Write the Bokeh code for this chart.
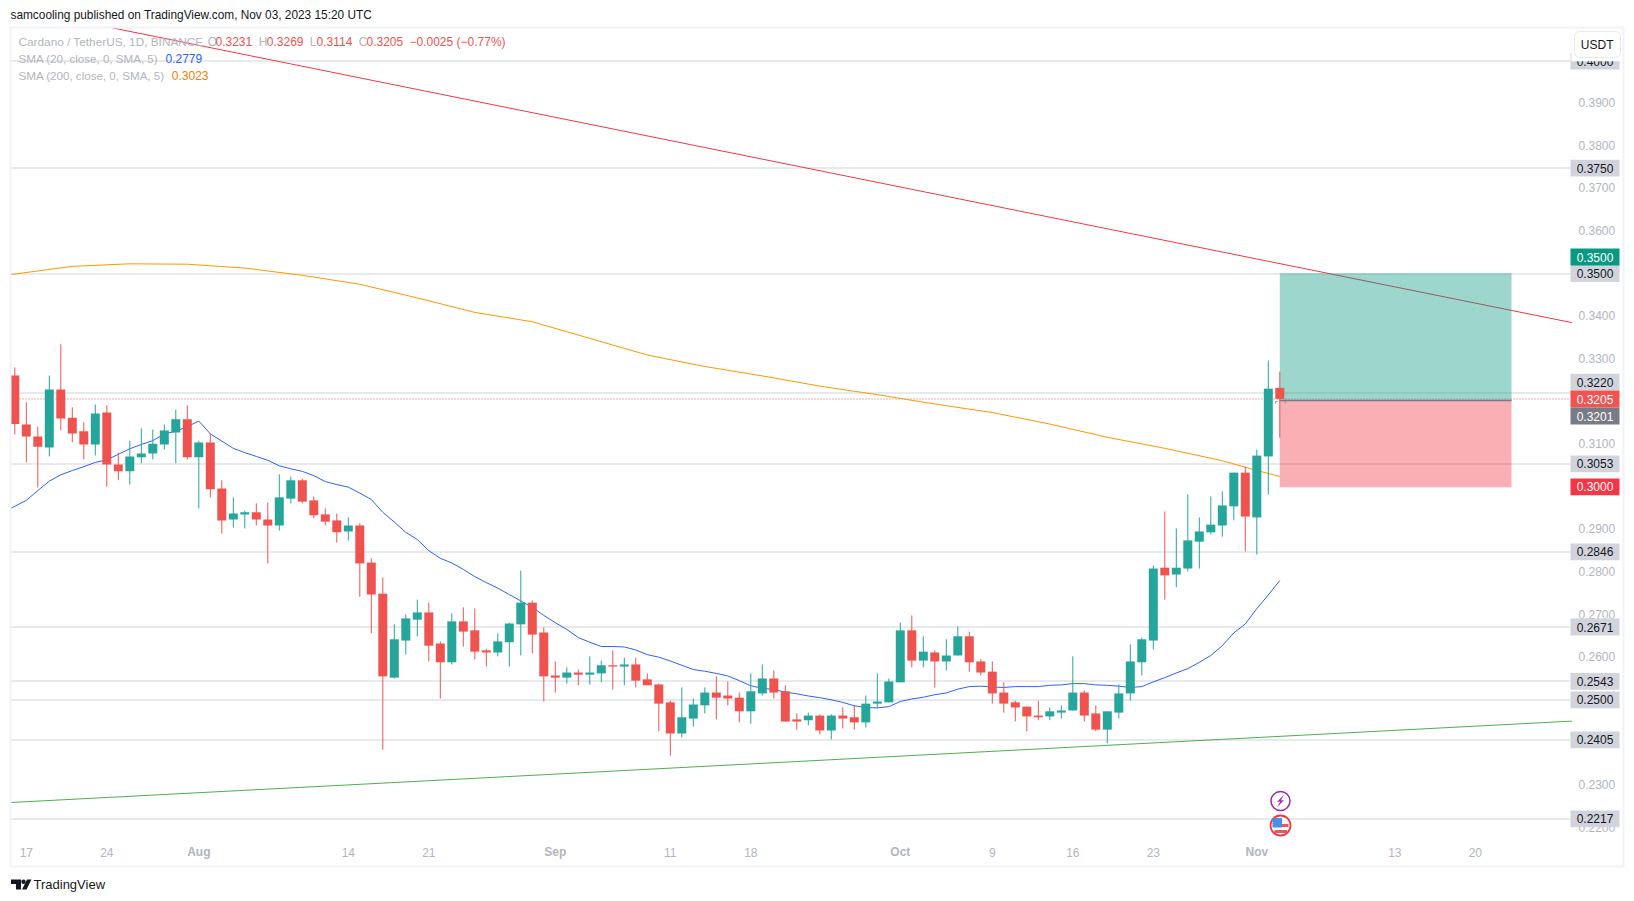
from bokeh.embed import file_html
from bokeh.resources import INLINE
from bokeh.plotting import figure
from bokeh.models import (BoxAnnotation, ColumnDataSource, FixedTicker, Label,
                          NumeralTickFormatter, Range1d)

# ---------- data ----------
opens = [.3260,.3145,.3117,.3091,.3227,.3161,.3129,.3098,.3173,.3051,.3035,.3068,.3077,.3098,.3126,.3157,.3068,.3103,.2995,.2922,
         .2934,.2939,.2922,.2908,.2971,.3014,.2967,.2934,.2920,.2894,.2908,.2821,.2748,.2551,.2638,.2687,.2704,.2631,.2587,.2683,
         .2662,.2615,.2610,.2634,.2676,.2727,.2657,.2556,.2551,.2563,.2558,.2561,.2580,.2577,.2582,.2547,.2535,.2493,.2420,.2455,
         .2486,.2516,.2509,.2504,.2472,.2514,.2549,.2519,.2453,.2451,.2462,.2427,.2462,.2458,.2446,.2490,.2493,.2540,.2662,.2591,
         .2610,.2589,.2603,.2648,.2589,.2565,.2516,.2493,.2483,.2462,.2460,.2469,.2474,.2516,.2467,.2429,.2469,.2514,.2587,.2638,
         .2809,.2793,.2807,.2870,.2892,.2908,.2953,.3032,.2927,.3070,.3231]
highs = [.3279,.3197,.3140,.3260,.3333,.3185,.3150,.3192,.3190,.3079,.3107,.3136,.3133,.3145,.3180,.3190,.3107,.3124,.3014,.2974,
         .2943,.2960,.2962,.3028,.3023,.3018,.2976,.2948,.2936,.2927,.2913,.2831,.2786,.2676,.2699,.2734,.2727,.2636,.2702,.2716,
         .2713,.2619,.2655,.2680,.2802,.2732,.2669,.2589,.2575,.2570,.2601,.2591,.2615,.2598,.2598,.2561,.2537,.2497,.2528,.2502,
         .2528,.2554,.2542,.2516,.2561,.2582,.2568,.2533,.2467,.2469,.2465,.2465,.2481,.2486,.2509,.2561,.2549,.2680,.2697,.2648,
         .2615,.2641,.2671,.2659,.2594,.2589,.2540,.2497,.2483,.2497,.2481,.2486,.2601,.2521,.2486,.2472,.2535,.2629,.2645,.2814,
         .2941,.2901,.2981,.2927,.2976,.2988,.3032,.3046,.3086,.3295,.3269]
lows = [.3122,.3056,.2997,.3070,.3131,.3103,.3063,.3072,.2999,.3014,.3004,.3054,.3063,.3086,.3054,.3063,.2948,.2974,.2889,.2903,
        .2901,.2908,.2819,.2896,.2960,.2960,.2925,.2908,.2868,.2873,.2741,.2655,.2382,.2549,.2605,.2648,.2589,.2502,.2582,.2624,
        .2594,.2577,.2601,.2577,.2603,.2608,.2495,.2516,.2537,.2533,.2535,.2540,.2523,.2533,.2528,.2533,.2425,.2368,.2411,.2436,
        .2467,.2453,.2486,.2446,.2443,.2509,.2502,.2448,.2429,.2439,.2418,.2406,.2432,.2429,.2434,.2479,.2493,.2540,.2575,.2575,
        .2528,.2568,.2603,.2565,.2556,.2490,.2469,.2448,.2425,.2451,.2451,.2455,.2474,.2448,.2425,.2397,.2455,.2497,.2556,.2617,
        .2734,.2763,.2800,.2807,.2887,.2882,.2920,.2847,.2840,.2981,.3114]
closes = [.3146,.3117,.3093,.3227,.3159,.3124,.3098,.3171,.3051,.3035,.3070,.3077,.3100,.3131,.3157,.3068,.3103,.2993,.2920,.2936,
          .2939,.2922,.2908,.2974,.3014,.2964,.2932,.2917,.2892,.2908,.2819,.2746,.2554,.2641,.2690,.2704,.2626,.2587,.2683,.2659,
          .2612,.2610,.2636,.2678,.2727,.2652,.2554,.2551,.2563,.2558,.2563,.2580,.2577,.2582,.2544,.2533,.2490,.2420,.2458,.2488,
          .2516,.2504,.2502,.2472,.2519,.2549,.2516,.2448,.2448,.2462,.2427,.2462,.2455,.2446,.2490,.2495,.2542,.2662,.2591,.2612,
          .2589,.2603,.2648,.2587,.2563,.2514,.2490,.2481,.2460,.2458,.2472,.2474,.2516,.2462,.2429,.2472,.2514,.2589,.2641,.2807,
          .2791,.2809,.2873,.2894,.2910,.2955,.3032,.2929,.3072,.3229,.3205]
sma20 = [.2948,.2953,.2967,.2990,.3012,.3027,.3037,.3046,.3056,.3062,.3075,.3088,.3098,.3107,.3123,.3129,.3140,.3153,.3123,.3106,.3089,
         .3079,.3070,.3061,.3048,.3041,.3035,.3025,.3011,.3004,.2998,.2984,.2969,.2939,.2916,.2892,.2875,.2849,.2831,.2820,.2805,
         .2788,.2774,.2761,.2746,.2731,.2716,.2697,.2680,.2664,.2645,.2634,.2624,.2624,.2623,.2616,.2605,.2599,.2590,.2580,.2570,
         .2566,.2561,.2555,.2544,.2532,.2526,.2523,.2517,.2513,.2508,.2504,.2499,.2493,.2485,.2481,.2480,.2483,.2495,.2501,.2505,
         .2511,.2515,.2524,.2530,.2531,.2529,.2528,.2530,.2530,.2530,.2533,.2534,.2537,.2537,.2534,.2533,.2531,.2528,.2530,.2541,
         .2551,.2562,.2572,.2587,.2603,.2626,.2656,.2677,.2713,.2745,.2779]
sma200_days = [-0.37,0,5,10,15,20,25,30,35,40,45,50,55,60,65,70,75,80,85,90,95,100,105,108,110]
sma200 = [.3497,.3498,.3516,.3522,.3521,.3512,.3495,.3474,.3442,.3408,.3386,.3347,.3308,.3281,.3259,.3235,.3215,.3193,.3173,.3146,.3115,.3089,.3060,.3037,.3023]
resistance_days = [8.4,135.4]
resistance = [.4076,.3384]
support_days = [-0.37,135.4]
support = [.2258,.2449]
levels = [.39978,.37468,.34981,.32189,.30523,.28458,.26698,.25431,.24985,.24047,.22193]
level_texts = ["0.4000","0.3750","0.3500","0.3220","0.3053","0.2846","0.2671","0.2543","0.2500","0.2405","0.2217"]
price_ticks = [.22,.23,.24,.25,.26,.27,.28,.29,.30,.31,.32,.33,.34,.35,.36,.37,.38,.39]
last_price = .32048
target, entry, stop = .3500, .3201, .2998
position_days = [110, 130.15]
date_ticks = [1,8,29,36,57,64,85,92,99,120,127]
date_labels = ["17","24","14","21","11","18","9","16","23","13","20"]
month_ticks = [16,47,77,108]
month_labels = ["Aug","Sep","Oct","Nov"]

# ---------- page pixel <-> data helpers (page chrome only) ----------
def X(px): return (px - 14.3) / 11.5
def Y(py): return .29 + (528.4 - py) / 4262

GREEN, RED = "#26a69a", "#ef5350"
FONT = "Liberation Sans"
GREY = "#b2b5be"

p = figure(width=1626, height=893, output_backend="svg", toolbar_location=None,
           x_range=Range1d(X(0), X(1626)), y_range=Range1d(Y(893), Y(0)),
           x_axis_location="below", y_axis_location="right",
           min_border_left=0, min_border_right=0, min_border_top=0, min_border_bottom=0)
p.grid.visible = False
p.outline_line_color = None
p.background_fill_color = "white"
p.border_fill_color = "white"

for a in (p.xaxis[0], p.yaxis[0]):
    a.axis_line_color = None
    a.major_tick_line_color = None
    a.minor_tick_line_color = None
    a.major_tick_out = 0
    a.major_tick_in = 0
    a.minor_tick_out = 0
    a.minor_tick_in = 0
    a.major_label_text_font = FONT
    a.major_label_text_font_size = "12px"
    a.major_label_text_color = GREY
    a.major_label_standoff = 8

ax = p.xaxis[0]
ax.fixed_location = Y(839)
ax.ticker = FixedTicker(ticks=date_ticks)
ax.major_label_overrides = dict(zip(date_ticks, date_labels))

ay = p.yaxis[0]
ay.fixed_location = X(1570)
ay.ticker = FixedTicker(ticks=price_ticks)
ay.formatter = NumeralTickFormatter(format="0.0000")

# level lines
rng_l, rng_r = X(10), X(1570)
p.segment(x0=[rng_l]*len(levels), x1=[rng_r]*len(levels), y0=levels, y1=levels,
          line_color="#d1d4dc", line_width=1)
p.line([rng_l, rng_r], [last_price, last_price], line_color=RED, line_width=1, line_dash=[1, 2])

# trend lines
p.line(resistance_days, resistance, line_color="#f23645", line_width=1)
p.line(support_days, support, line_color="#4caf50", line_width=1)

# moving averages
days = list(range(len(opens)))
p.line([-0.37] + days, sma20, line_color="#2962ff", line_width=1)
p.line(sma200_days, sma200, line_color="#ff9800", line_width=1)

# position tool
p.quad(left=position_days[0], right=position_days[1], top=target, bottom=entry,
       fill_color="#089981", fill_alpha=0.4, line_color=None)
p.quad(left=position_days[0], right=position_days[1], top=entry, bottom=stop,
       fill_color="#f23645", fill_alpha=0.4, line_color=None)
p.line(position_days, [entry, entry], line_color="#787b86", line_width=1.5)

# candles
src = ColumnDataSource(dict(
    x=days, o=opens, h=highs, l=lows, c=closes,
    color=[GREEN if c >= o else RED for o, c in zip(opens, closes)],
    top=[max(o, c) for o, c in zip(opens, closes)],
    bottom=[min(o, c) for o, c in zip(opens, closes)]))
p.segment(x0="x", x1="x", y0="l", y1="h", line_color="color", line_width=1, source=src)
p.vbar(x="x", width=9 / 11.5, top="top", bottom="bottom", fill_color="color", line_color=None, source=src)

# little cursor marks by the last candle
p.multi_line([[X(1275), X(1275), X(1277)], [X(1283), X(1285), X(1285)]],
             [[Y(403), Y(401), Y(401)], [Y(401), Y(401), Y(403)]], line_color="#9598a1", line_width=1)

# event icons
p.scatter([X(1280)], [Y(800.5)], size=19, marker="circle", fill_color="white", line_color="#9c27b0", line_width=1.5)
p.patch([X(1283.5), X(1276.5), X(1279.7), X(1276.5), X(1283.5), X(1280.3)],
        [Y(794), Y(801.5), Y(801), Y(807), Y(799.5), Y(800)], fill_color="#9c27b0", line_color=None)
p.scatter([X(1280)], [Y(825)], size=20, marker="circle", fill_color="white", line_color="#f23645", line_width=1.8)
p.quad(left=[X(1281.5), X(1274)], right=[X(1288), X(1286.5)], top=[Y(823.5), Y(829.5)], bottom=[Y(826.5), Y(832.5)],
       fill_color="#f0545a", line_color=None)
p.quad(left=X(1272), right=X(1281.5), top=Y(817.5), bottom=Y(827), fill_color="#4a90e2", line_color=None)

# footer logo
p.patch([X(10.5), X(20.5), X(20.5), X(15.5), X(15.5), X(10.5)],
        [Y(879), Y(879), Y(889), Y(889), Y(883.5), Y(883.5)], fill_color="#131722", line_color=None)
p.scatter([X(23)], [Y(881.2)], size=4.4, marker="circle", fill_color="#131722", line_color=None)
p.patch([X(26.5), X(31), X(26), X(21.5)], [Y(879), Y(879), Y(889), Y(889)], fill_color="#131722", line_color=None)

LEVEL = "annotation"


def box(l, r, t, b, fill="white", line=None, lw=1, radius=0):
    kw = dict(left=X(l), right=X(r), top=Y(t), bottom=Y(b), fill_color=fill, fill_alpha=1 if fill else 0,
              line_color=line, line_width=lw, line_alpha=1 if line else 0, level=LEVEL)
    if radius:
        kw["border_radius"] = radius
    p.add_layout(BoxAnnotation(**kw))


def text(px, py, s, color="#131722", size="12px", align="left", bold=False):
    p.add_layout(Label(x=X(px), y=Y(py), text=s, text_color=color, text_font=FONT, text_font_size=size,
                       text_align=align, text_baseline="middle",
                       text_font_style="bold" if bold else "normal", level=LEVEL))


# month ticks in bold on the time scale
for t, s in zip(month_ticks, month_labels):
    text(14.3 + 11.5 * t, 851.7, s, color=GREY, align="center", bold=True)

# grey price tags
level_centers = [60.7, 167.7, 273, 381.7, 463.3, 551.3, 626.5, 680.8, 699.4, 739.3, 818.4]
for yc, s in zip(level_centers, level_texts):
    box(1570, 1619, yc - 8.4, yc + 8.4, fill="#d1d4dc")
    text(1594.5, yc, s, align="center")

# coloured tags
tag_texts = ["0.3500", "0.3205", "0.3201", "0.3000"]
tag_centers = [256.5, 398.5, 415.5, 486.3]
tag_colors = ["#089981", "#f05350", "#787b86", "#f23645"]
for yc, s, c in zip(tag_centers, tag_texts, tag_colors):
    box(1570, 1619, yc - 8.4, yc + 8.4, fill=c)
    text(1594.5, yc, s, color="white", align="center")

# currency button
box(1571, 1622, 28, 60.7, fill="white")
box(1574, 1620, 31, 57, fill="white", line="#e6e9f2", lw=1, radius=5)
text(1596.7, 44.3, "USDT", align="center")

# pane border
box(10, 1623, 27, 866, fill=None, line="#f0f3fa", lw=2)

# header and legend
text(10, 14.5, "samcooling published on TradingView.com, Nov 03, 2023 15:20 UTC", size="11.85px")
text(18, 41, "Cardano / TetherUS, 1D, BINANCE", color=GREY, size="11.8px")
for px, s, c in [(207.3, "O", GREY), (215, "0.3231", RED), (258.3, "H", GREY), (266.3, "0.3269", RED),
                 (309.3, "L", GREY), (316, "0.3114", RED), (358.3, "C", GREY), (366, "0.3205", RED),
                 (409, "\u22120.0025 (\u22120.77%)", RED)]:
    text(px, 41, s, color=c)
text(18, 58, "SMA (20, close, 0, SMA, 5)", color=GREY, size="11.6px")
text(165, 58, "0.2779", color="#2962ff")
text(18, 75, "SMA (200, close, 0, SMA, 5)", color=GREY, size="11.6px")
text(171.3, 75, "0.3023", color="#f57c00")

# footer text
text(33, 884, "TradingView", size="13px")

open("out.html", "w").write(file_html(p, INLINE))
